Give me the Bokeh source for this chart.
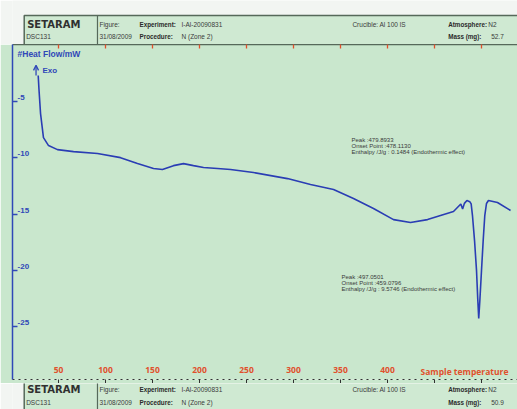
from bokeh.plotting import figure
from bokeh.models import Range1d, LinearAxis, FixedTicker, Label, Arrow, OpenHead
from bokeh.layouts import column
from bokeh.embed import file_html
from bokeh.resources import INLINE
from bokeh.core.properties import value

# ---------------- data ----------------
temperature = [28.4, 29.2, 30.9, 34.0, 39.4, 48.9, 66.0, 91.5, 116.0, 134.0, 151.1, 160.6,
               172.3, 183.0, 193.6, 204.3, 219.1, 233.0, 257.4, 293.6, 318.1, 342.6, 363.8,
               385.1, 406.4, 424.5, 442.6, 456.4, 470.2, 478.0, 479.9, 481.8, 484.5, 487.5,
               489.0, 490.4, 492.6, 494.7, 496.0, 497.05, 498.3, 500.0, 501.8, 503.5, 505.3,
               507.4, 517.0, 530.9]
heat_flow = [-2.70, -3.90, -6.08, -8.21, -8.92, -9.28, -9.46, -9.63, -9.99, -10.52, -10.96, -11.05,
             -10.70, -10.52, -10.70, -10.87, -10.96, -11.05, -11.31, -11.85, -12.38, -12.82, -13.62,
             -14.51, -15.49, -15.75, -15.49, -15.13, -14.77, -14.10, -14.55, -14.05, -13.79, -13.90,
             -14.10, -15.13, -17.35, -20.00, -22.50, -24.27, -22.60, -20.00, -17.35, -15.13, -14.06,
             -13.79, -13.97, -14.68]
x_ticks = [50, 100, 150, 200, 250, 300, 350, 400, 450, 500]
x_hidden_labels = {450: "", 500: ""}
y_ticks = [-5, -10, -15, -20, -25]
y_tick_labels = ["-5", "-10", "-15", "-20", "-25"]

peak1_lines = ["Peak :479.8933", "Onset Point :478.1130",
               "Enthalpy /J/g : 0.1484 (Endothermic effect)"]
peak2_lines = ["Peak :497.0501", "Onset Point :459.0796",
               "Enthalpy /J/g : 9.5746 (Endothermic effect)"]

top_info = dict(experiment="I-Al-20090831", procedure="N (Zone 2)", date="31/08/2009",
                crucible="Crucible: Al 100 lS", atmosphere="N2", mass="52.7")
bottom_info = dict(experiment="I-Al-20090831", procedure="N (Zone 2)", date="31/08/2009",
                   crucible="Crucible: Al 100 lS", atmosphere="N2", mass="50.9")

# ---------------- style ----------------
GREEN = "#c9e7cd"
HEAD_GREEN = "#cfe9d2"
OUTSIDE = "#f2f5f2"
BORDER = "#56695a"
BLUE = "#3048b8"
CURVE = "#2a3db4"
RED = "#e0502c"
DARK = "#3a3a3a"
FONT = "Liberation Sans"


def header(height, box_top, row1, row2, info):
    h = figure(width=517, height=height, x_range=Range1d(0, 517), y_range=Range1d(height, 0),
               toolbar_location=None, output_backend="svg", min_border=0)
    h.axis.visible = False
    h.grid.visible = False
    h.outline_line_color = None
    h.background_fill_color = OUTSIDE
    h.border_fill_color = OUTSIDE
    h.quad(left=12, right=522, top=box_top, bottom=height + 3, fill_color=HEAD_GREEN,
           line_color=BORDER, line_width=1.5)
    h.segment(x0=87, y0=box_top, x1=87, y1=height + 3, line_color=BORDER, line_width=1.2)
    h.text(x=15, y=row1, text=["SETARAM"], text_font=value("DejaVu Sans"),
           text_font_style="bold", text_font_size="10px", text_color="#303030",
           text_baseline="middle")
    h.text(x=[14, 89, 89, 173, 173, 348, 487, 490],
           y=[row2, row1, row2, row1, row2, row1, row1, row2],
           text=["DSC131", "Figure:", info["date"], info["experiment"], info["procedure"],
                 info["crucible"], info["atmosphere"], info["mass"]],
           text_font=value(FONT), text_font_size="6.5px", text_color=DARK,
           text_baseline="middle")
    h.text(x=[130, 130, 446, 446], y=[row1, row2, row1, row2],
           text=["Experiment:", "Procedure:", "Atmosphere:", "Mass (mg):"],
           text_font=value(FONT), text_font_style="bold", text_font_size="6.3px",
           text_color="#2a2a2a", text_baseline="middle")
    return h


top = header(44, 15, 24, 36, top_info)
bottom = header(26, -3, 5.5, 19, bottom_info)

# ---------------- main plot ----------------
p = figure(width=517, height=339, x_range=Range1d(1.06, 538.3), y_range=Range1d(-29.68, 0.05),
           toolbar_location=None, output_backend="svg", min_border_left=12, min_border_right=0,
           min_border_top=0, min_border_bottom=4, x_axis_location=None, y_axis_location=None)
p.grid.visible = False
p.outline_line_color = None
p.background_fill_color = GREEN
p.border_fill_color = GREEN

# left axis: line and inward ticks only (labels drawn separately, slightly above each tick)
left = LinearAxis(ticker=FixedTicker(ticks=y_ticks), axis_line_color=BLUE, axis_line_width=1.5,
                  major_tick_in=5, major_tick_out=0, major_tick_line_color=BLUE,
                  major_tick_line_width=1.3, minor_tick_line_color=None,
                  major_label_text_color=None, major_label_text_font_size="1px",
                  major_label_standoff=0)
p.add_layout(left, "left")

# top edge: border line with short red ticks
above = LinearAxis(ticker=FixedTicker(ticks=x_ticks), axis_line_color=BORDER, axis_line_width=1.5,
                   major_tick_in=4, major_tick_out=0, major_tick_line_color=RED,
                   major_tick_line_width=1.3, minor_tick_line_color=None,
                   major_label_text_color=None, major_label_text_font_size="1px",
                   major_label_standoff=0)
p.add_layout(above, "above")

below = LinearAxis(ticker=FixedTicker(ticks=x_ticks), axis_line_color="#303030",
                   axis_line_dash="dotted", axis_line_width=1.2, major_tick_in=0,
                   major_tick_out=4, major_tick_line_color="#303030", minor_tick_line_color=None,
                   major_label_standoff=-17, major_label_text_color=RED,
                   major_label_text_font="Open Sans", major_label_text_font_style="bold",
                   major_label_text_font_size="8.5px", major_label_overrides=x_hidden_labels)
p.add_layout(below, "below")

p.text(x=6.4, y=y_ticks, text=y_tick_labels, text_font=value(FONT), text_font_style="bold",
       text_font_size="8px", text_color=BLUE, text_baseline="middle", y_offset=-4)

p.line(temperature, heat_flow, line_color=CURVE, line_width=1.6)

p.add_layout(Label(x=6.4, y=-0.75, text="#Heat Flow/mW", text_font=FONT, text_font_style="bold",
                   text_font_size="8.5px", text_color=BLUE, text_baseline="middle"))
p.add_layout(Arrow(end=OpenHead(size=5, line_color=BLUE, line_width=1.3),
                   x_start=26.1, y_start=-2.7, x_end=26.1, y_end=-1.8,
                   line_color=BLUE, line_width=1.3))
p.add_layout(Label(x=33, y=-2.24, text="Exo", text_font=FONT, text_font_style="bold",
                   text_font_size="8px", text_color=BLUE, text_baseline="middle"))
p.add_layout(Label(x=528.7, y=-28.97, text="Sample temperature", text_font="Open Sans",
                   text_font_style="bold", text_font_size="8.5px", text_color=RED,
                   text_align="right", text_baseline="middle"))

for i, line in enumerate(peak1_lines):
    p.add_layout(Label(x=361.7, y=-8.45 - 0.54 * i, text=line, text_font=FONT,
                       text_font_size="6px", text_color=DARK, text_baseline="middle"))
for i, line in enumerate(peak2_lines):
    p.add_layout(Label(x=351.1, y=-20.6 - 0.54 * i, text=line, text_font=FONT,
                       text_font_size="6px", text_color=DARK, text_baseline="middle"))

layout = column(top, p, bottom, spacing=0)
open("out.html", "w").write(file_html(layout, INLINE))
